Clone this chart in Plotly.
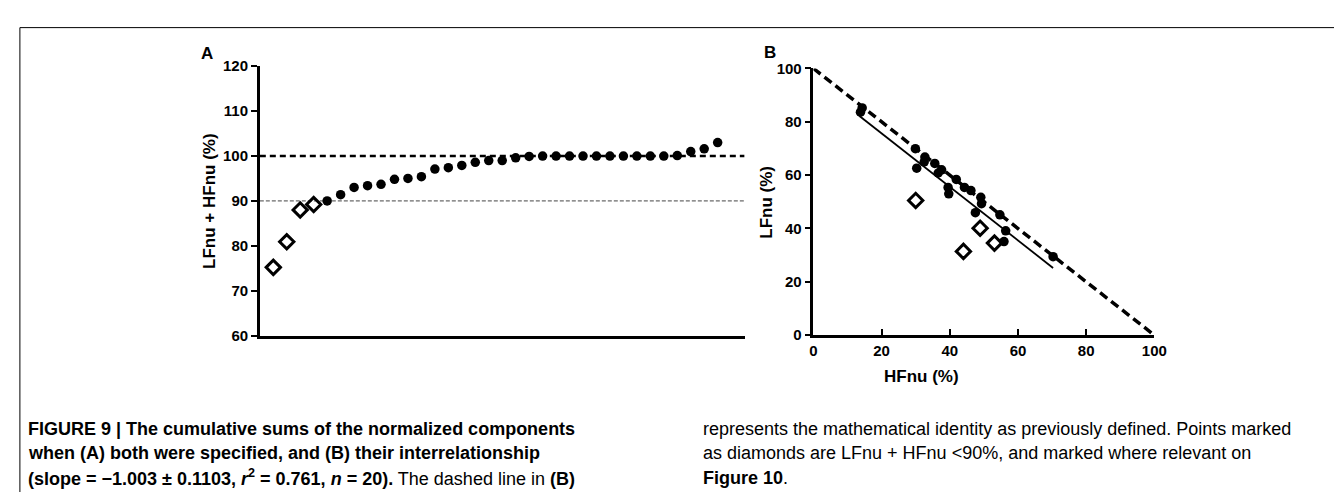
import plotly.graph_objects as go

# --- DATA ---
# Panel A: LFnu + HFnu per recording, sorted (rank on x)
a_diamond_rank = [1, 2, 3, 4]
a_diamond_sum = [75.2, 80.9, 88.0, 89.2]
a_dot_rank = [5, 6, 7, 8, 9, 10, 11, 12, 13, 14, 15, 16, 17, 18, 19,
              20, 21, 22, 23, 24, 25, 26, 27, 28, 29, 30, 31, 32, 33, 34]
a_dot_sum = [90.0, 91.4, 93.0, 93.4, 93.7, 94.8, 95.0, 95.4, 97.1, 97.4,
             97.9, 98.6, 99.0, 99.0, 99.6, 99.9, 100.0, 100.0, 100.0, 100.0,
             100.0, 100.0, 100.0, 100.0, 100.0, 100.0, 100.1, 101.0, 101.6, 103.0]
a_ref_levels = [100, 90]
a_yticks = [60, 70, 80, 90, 100, 110, 120]

# Panel B: LFnu vs HFnu
b_dot_hf = [13.8, 14.3, 29.9, 30.3, 32.7, 32.5, 35.6, 37.6, 36.6, 41.9, 39.5,
            39.7, 44.3, 46.2, 49.1, 49.3, 47.5, 54.7, 56.4, 55.9, 70.3]
b_dot_lf = [83.6, 85.2, 69.9, 62.6, 66.8, 65.0, 64.4, 62.0, 60.8, 58.4, 55.4,
            53.0, 55.4, 54.2, 51.7, 49.3, 45.9, 45.1, 39.1, 35.1, 29.4]
b_dia_hf = [30.0, 44.0, 48.9, 53.1]
b_dia_lf = [50.5, 31.4, 40.1, 34.5]
identity_hf = [0, 100]
identity_lf = [100, 0]
fit_slope = -1.003
fit_intercept = 95.7
fit_hf = [13.5, 70.3]
fit_lf = [fit_intercept + fit_slope * h for h in fit_hf]
b_ticks = [0, 20, 40, 60, 80, 100]

W, H = 1342, 492
FONT = "Liberation Sans, Arial, Helvetica, sans-serif"


def px_x(v):
    return v / W


def px_y(v):
    return 1 - v / H


fig = go.Figure()

# --- Panel A ---
for lvl, w, dash, col in [(a_ref_levels[0], 2.5, "6px,4px", "black"),
                          (a_ref_levels[1], 1, "4px,2px", "#444")]:
    fig.add_trace(go.Scatter(x=[0, 36], y=[lvl, lvl], mode="lines",
                             line=dict(color=col, width=w, dash=dash),
                             xaxis="x", yaxis="y", hoverinfo="skip"))
fig.add_trace(go.Scatter(x=a_dot_rank, y=a_dot_sum, mode="markers",
                         marker=dict(symbol="circle", size=9.5, color="black"),
                         xaxis="x", yaxis="y"))
fig.add_trace(go.Scatter(x=a_diamond_rank, y=a_diamond_sum, mode="markers",
                         marker=dict(symbol="diamond-open", size=11, color="black",
                                     line=dict(width=3, color="black")),
                         xaxis="x", yaxis="y"))

# --- Panel B ---
fig.add_trace(go.Scatter(x=identity_hf, y=identity_lf, mode="lines",
                         line=dict(color="black", width=3.5, dash="9px,5px"),
                         xaxis="x2", yaxis="y2", hoverinfo="skip"))
fig.add_trace(go.Scatter(x=fit_hf, y=fit_lf, mode="lines",
                         line=dict(color="black", width=1.8),
                         xaxis="x2", yaxis="y2", hoverinfo="skip"))
fig.add_trace(go.Scatter(x=b_dot_hf, y=b_dot_lf, mode="markers",
                         marker=dict(symbol="circle", size=9.5, color="black"),
                         xaxis="x2", yaxis="y2"))
fig.add_trace(go.Scatter(x=b_dia_hf, y=b_dia_lf, mode="markers",
                         marker=dict(symbol="diamond-open", size=11, color="black",
                                     line=dict(width=3, color="black")),
                         xaxis="x2", yaxis="y2"))

tickfont = dict(family=FONT, size=15, color="black", weight="bold")
axis_common = dict(showgrid=False, zeroline=False, showline=True,
                   linecolor="black", linewidth=2.5, tickfont=tickfont,
                   tickcolor="black", tickwidth=2)

fig.update_layout(
    width=W, height=H, margin=dict(l=0, r=0, t=0, b=0),
    paper_bgcolor="white", plot_bgcolor="white", showlegend=False,
    xaxis=dict(domain=[px_x(251), px_x(742)], range=[0, 36], showticklabels=False,
               ticks="", anchor="y", **axis_common),
    yaxis=dict(domain=[px_y(330), px_y(51)], range=[60, 120], tickvals=a_yticks,
               ticks="outside", ticklen=6, anchor="x", **axis_common),
    xaxis2=dict(domain=[px_x(811.7), px_x(1157)], range=[0, 100], tickvals=b_ticks,
                ticks="inside", ticklen=6, anchor="y2", **axis_common),
    yaxis2=dict(domain=[px_y(329.5), px_y(53.3)], range=[0, 100], tickvals=b_ticks,
                ticks="outside", ticklen=6, anchor="x2", **axis_common),
)

ann = []
bold = dict(family=FONT, size=17, color="black", weight="bold")
ann.append(dict(x=px_x(197), y=px_y(38), text="A", font=bold))
ann.append(dict(x=px_x(768), y=px_y(37), text="B", font=bold))
ann.append(dict(x=px_x(200), y=px_y(190), text="LFnu + HFnu (%)", textangle=-90, font=bold))
ann.append(dict(x=px_x(764), y=px_y(192), text="LFnu (%)", textangle=-90, font=bold))
ann.append(dict(x=px_x(921), y=px_y(372), text="HFnu (%)", font=bold))

cap = dict(family=FONT, size=18, color="black")
left_lines = [
    "<b>FIGURE 9 | The cumulative sums of the normalized components</b>",
    "<b>when (A) both were specified, and (B) their interrelationship</b>",
    "<b>(slope = \u22121.003 \u00b1 0.1103, <i>r</i><sup>2</sup> = 0.761, <i>n</i> = 20).</b> The dashed line in <b>(B)</b>",
]
right_lines = [
    "represents the mathematical identity as previously defined. Points marked",
    "as diamonds are LFnu + HFnu &lt;90%, and marked where relevant on",
    "<b>Figure 10</b>.",
]
line_y = [427, 452, 477]
for t, yy in zip(left_lines, line_y):
    ann.append(dict(x=px_x(14), y=px_y(yy), text=t, xanchor="left", font=cap))
for t, yy in zip(right_lines, line_y):
    ann.append(dict(x=px_x(698), y=px_y(yy), text=t, xanchor="left", font=cap))

for a in ann:
    a.setdefault("xanchor", "center")
    a.update(xref="paper", yref="paper", yanchor="middle", showarrow=False)
fig.update_layout(annotations=ann)

# outer frame of the figure panel
fig.add_shape(type="path", xref="paper", yref="paper",
              path=f"M {px_x(8)},{px_y(500)} L {px_x(8)},{px_y(11)} L {px_x(1350)},{px_y(11)}",
              line=dict(color="black", width=1))

fig.write_html("out.html")
